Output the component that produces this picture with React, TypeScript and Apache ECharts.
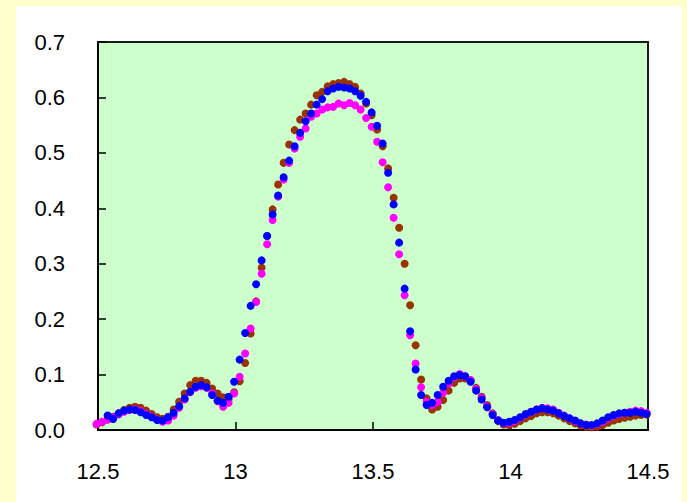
import React, { useEffect, useRef } from "react";
import * as echarts from "echarts";

const xValues = [
  12.495, 12.515, 12.535, 12.555, 12.575, 12.595, 12.615, 12.635, 12.655, 12.675,
  12.695, 12.715, 12.735, 12.755, 12.775, 12.795, 12.815, 12.835, 12.855, 12.875,
  12.895, 12.915, 12.935, 12.955, 12.975, 12.995, 13.015, 13.035, 13.055, 13.075,
  13.095, 13.115, 13.135, 13.155, 13.175, 13.195, 13.215, 13.235, 13.255, 13.275,
  13.295, 13.315, 13.335, 13.355, 13.375, 13.395, 13.415, 13.435, 13.455, 13.475,
  13.495, 13.515, 13.535, 13.555, 13.575, 13.595, 13.615, 13.635, 13.655, 13.675,
  13.695, 13.715, 13.735, 13.755, 13.775, 13.795, 13.815, 13.835, 13.855, 13.875,
  13.895, 13.915, 13.935, 13.955, 13.975, 13.995, 14.015, 14.035, 14.055, 14.075,
  14.095, 14.115, 14.135, 14.155, 14.175, 14.195, 14.215, 14.235, 14.255, 14.275,
  14.295, 14.315, 14.335, 14.355, 14.375, 14.395, 14.415, 14.435, 14.455, 14.475,
  14.495,
];

const brownValues = [
  0.010, 0.014, 0.019, 0.024, 0.030, 0.036, 0.040, 0.042, 0.040, 0.035,
  0.029, 0.023, 0.020, 0.024, 0.037, 0.051, 0.066, 0.081, 0.089, 0.089,
  0.085, 0.075, 0.066, 0.059, 0.056, 0.068, 0.088, 0.121, 0.174, 0.232,
  0.293, 0.350, 0.398, 0.443, 0.482, 0.515, 0.541, 0.560, 0.571, 0.587,
  0.604, 0.610, 0.620, 0.624, 0.626, 0.628, 0.624, 0.619, 0.607, 0.589,
  0.568, 0.542, 0.512, 0.472, 0.419, 0.365, 0.300, 0.225, 0.153, 0.091,
  0.057, 0.037, 0.042, 0.054, 0.071, 0.085, 0.093, 0.093, 0.090, 0.076,
  0.060, 0.045, 0.030, 0.016, 0.010, 0.009, 0.011, 0.016, 0.021, 0.025,
  0.030, 0.032, 0.032, 0.030, 0.026, 0.021, 0.016, 0.012, 0.008, 0.006,
  0.005, 0.006, 0.009, 0.013, 0.017, 0.020, 0.022, 0.024, 0.026, 0.027,
  0.028,
];

const magentaValues = [
  0.011, 0.015, 0.019, 0.023, 0.028, 0.033, 0.036, 0.037, 0.034, 0.029,
  0.024, 0.019, 0.015, 0.017, 0.026, 0.040, 0.055, 0.068, 0.076, 0.079,
  0.076, 0.066, 0.052, 0.042, 0.049, 0.066, 0.096, 0.138, 0.183, 0.231,
  0.282, 0.335, 0.379, 0.421, 0.452, 0.482, 0.508, 0.529, 0.544, 0.565,
  0.571, 0.578, 0.582, 0.583, 0.589, 0.586, 0.590, 0.586, 0.578, 0.563,
  0.547, 0.520, 0.483, 0.438, 0.383, 0.317, 0.243, 0.171, 0.120, 0.077,
  0.051, 0.045, 0.051, 0.067, 0.084, 0.095, 0.101, 0.097, 0.090, 0.074,
  0.058, 0.043, 0.029, 0.018, 0.012, 0.013, 0.016, 0.022, 0.028, 0.033,
  0.037, 0.040, 0.039, 0.037, 0.031, 0.026, 0.021, 0.016, 0.012, 0.010,
  0.008, 0.011, 0.015, 0.021, 0.026, 0.029, 0.031, 0.033, 0.035, 0.034,
  0.031,
];

const blueValues: (number | null)[] = [
  null, null, 0.026, 0.020, 0.030, 0.035, 0.037, 0.036, 0.032, 0.027,
  0.023, 0.018, 0.017, 0.023, 0.031, 0.043, 0.057, 0.069, 0.078, 0.081,
  0.077, 0.063, 0.053, 0.049, 0.060, 0.087, 0.127, 0.175, 0.224, 0.263,
  0.306, 0.350, 0.389, 0.423, 0.456, 0.486, 0.512, 0.536, 0.557, 0.571,
  0.587, 0.597, 0.611, 0.616, 0.619, 0.618, 0.616, 0.611, 0.603, 0.592,
  0.573, 0.549, 0.517, 0.464, 0.407, 0.338, 0.255, 0.178, 0.109, 0.063,
  0.045, 0.049, 0.063, 0.078, 0.089, 0.097, 0.099, 0.097, 0.087, 0.071,
  0.055, 0.041, 0.027, 0.017, 0.013, 0.015, 0.018, 0.023, 0.029, 0.033,
  0.037, 0.039, 0.037, 0.035, 0.030, 0.025, 0.021, 0.017, 0.012, 0.009,
  0.009, 0.012, 0.017, 0.023, 0.027, 0.030, 0.031, 0.031, 0.033, 0.031,
  0.029,
];

const seriesDefs = [
  { name: "brown", color: "#993300", values: brownValues as (number | null)[] },
  { name: "magenta", color: "#FF00FF", values: magentaValues as (number | null)[] },
  { name: "blue", color: "#0000FF", values: blueValues },
];

const FONT = "'Liberation Sans', Arial, sans-serif";

export default function App() {
  const ref = useRef<HTMLDivElement>(null);
  useEffect(() => {
    if (!ref.current) return;
    const chart = echarts.init(ref.current, null, { renderer: "svg" });
    chart.setOption({
      animation: false,
      backgroundColor: "transparent",
      grid: {
        left: 98,
        top: 42,
        right: 39,
        bottom: 72,
        show: true,
        backgroundColor: "#CCFFCC",
        borderColor: "#1a1a1a",
        borderWidth: 2,
      },
      xAxis: {
        type: "value",
        min: 12.5,
        max: 14.5,
        interval: 0.5,
        axisLine: { show: true, onZero: false, lineStyle: { color: "#000", width: 2 } },
        axisTick: { show: true, inside: true, length: 8, lineStyle: { color: "#000", width: 1.5 } },
        splitLine: { show: false },
        axisLabel: {
          fontFamily: FONT,
          fontSize: 22,
          color: "#000",
          margin: 30,
        },
      },
      yAxis: {
        type: "value",
        min: 0,
        max: 0.7,
        interval: 0.1,
        axisLine: { show: true, onZero: false, lineStyle: { color: "#000", width: 2 } },
        axisTick: { show: true, inside: true, length: 8, lineStyle: { color: "#000", width: 1.5 } },
        splitLine: { show: false },
        axisLabel: {
          fontFamily: FONT,
          fontSize: 22,
          color: "#000",
          margin: 33,
          formatter: (v: number) => v.toFixed(1),
        },
      },
      series: seriesDefs.map((s) => ({
        name: s.name,
        type: "scatter",
        symbol: "circle",
        symbolSize: 8,
        clip: false,
        itemStyle: { color: s.color, opacity: 1 },
        data: xValues
          .map((x, i) => [x, s.values[i]])
          .filter((p) => p[1] !== null && p[1] !== undefined),
      })),
    });
    return () => chart.dispose();
  }, []);

  return (
    <div
      style={{
        position: "fixed",
        left: 0,
        top: 0,
        width: 687,
        height: 502,
        background: "#FFFFCC",
        overflow: "hidden",
      }}
    >
      <div
        style={{
          position: "absolute",
          left: 16,
          top: 6,
          width: 666,
          height: 496,
          background: "#FFFFFF",
        }}
      />
      <div
        ref={ref}
        style={{ position: "absolute", left: 0, top: 0, width: 687, height: 502 }}
      />
    </div>
  );
}
